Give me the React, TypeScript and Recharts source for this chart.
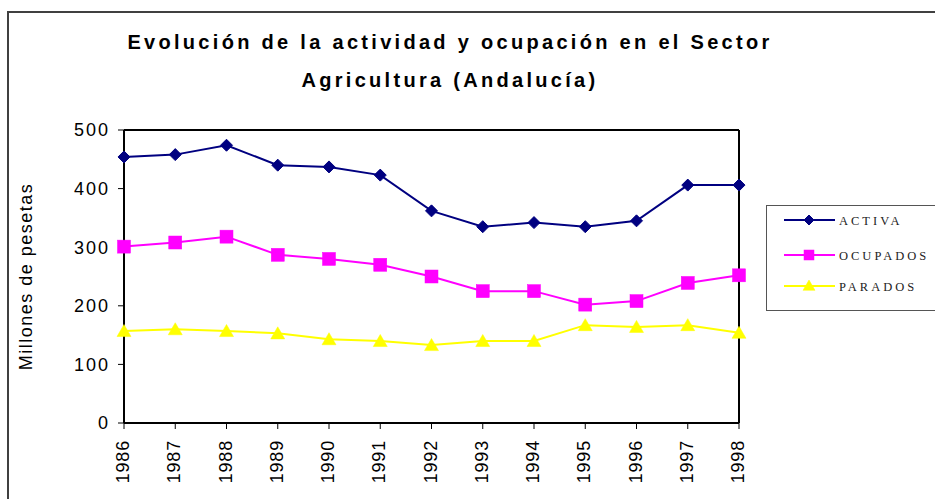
import React from 'react';
import { LineChart, Line, XAxis, YAxis, Legend, ReferenceLine } from 'recharts';

const years = ['1986', '1987', '1988', '1989', '1990', '1991', '1992', '1993', '1994', '1995', '1996', '1997', '1998'];
const activa = [454, 458, 474, 440, 437, 423, 362, 335, 342, 335, 345, 406, 406];
const ocupados = [301, 308, 318, 287, 280, 270, 250, 225, 225, 202, 208, 239, 252];
const parados = [157, 160, 157, 153, 143, 140, 133, 140, 140, 167, 164, 167, 154];
const yTicks = [0, 100, 200, 300, 400, 500];

const data = years.map((y, i) => ({ year: y, ACTIVA: activa[i], OCUPADOS: ocupados[i], PARADOS: parados[i] }));

const NAVY = '#000080';
const MAGENTA = '#FF00FF';
const YELLOW = '#FFFF00';
const FONT = "'Liberation Sans', Arial, sans-serif";

function Diamond(cx: number, cy: number, r: number, key?: string) {
  return <polygon key={key} points={`${cx},${cy - r} ${cx + r},${cy} ${cx},${cy + r} ${cx - r},${cy}`} fill={NAVY} stroke={NAVY} strokeWidth={1} />;
}
function Square(cx: number, cy: number, h: number, key?: string) {
  return <rect key={key} x={cx - h} y={cy - h} width={2 * h} height={2 * h} fill={MAGENTA} stroke={MAGENTA} strokeWidth={0.5} />;
}
function Triangle(cx: number, cy: number, h: number, key?: string) {
  return <polygon key={key} points={`${cx},${cy - h} ${cx + h},${cy + h * 0.72} ${cx - h},${cy + h * 0.72}`} fill={YELLOW} stroke={YELLOW} strokeWidth={0.5} />;
}

const diamondDot = (p: any) => Diamond(p.cx, p.cy, 6, `da-${p.index}`);
const squareDot = (p: any) => Square(p.cx, p.cy, 6.5, `do-${p.index}`);
const triangleDot = (p: any) => Triangle(p.cx, p.cy + 0.5, 7, `dp-${p.index}`);

const XTick = (p: any) => {
  const { x, y, payload } = p;
  return (
    <g transform={`translate(${x},${y})`}>
      <text x={0} y={0} dy="0.28em" transform="rotate(-90)" textAnchor="end" fontSize={18} fontFamily={FONT} letterSpacing={0.8} fill="#000">
        {payload.value}
      </text>
    </g>
  );
};

const YLabel = (p: any) => {
  const vb = p.viewBox || {};
  const cx = 32;
  const cy = (vb.y ?? 130) + (vb.height ?? 293) / 2;
  return (
    <text x={cx} y={cy} transform={`rotate(-90, ${cx}, ${cy})`} textAnchor="middle" fontSize={18} fontFamily={FONT} letterSpacing={1.5} fill="#000">
      Millones de pesetas
    </text>
  );
};

const LegendContent = (props: any) => {
  const payload = props.payload || [];
  const rowsY = [15, 50, 81];
  return (
    <div style={{ width: 200, height: 106, border: '1.5px solid #555', boxSizing: 'border-box', background: '#fff', position: 'relative' }}>
      <svg width={200} height={106} style={{ position: 'absolute', left: -1.5, top: -1.5 }}>
        {payload.map((item: any, i: number) => {
          const y = rowsY[i] ?? 15 + i * 33;
          const color = item.color;
          let marker = null;
          if (item.value === 'ACTIVA') marker = Diamond(43, y, 5);
          else if (item.value === 'OCUPADOS') marker = Square(43, y, 5);
          else marker = Triangle(43, y, 6);
          return (
            <g key={item.value}>
              <line x1={18} x2={69} y1={y} y2={y} stroke={color} strokeWidth={2} />
              {marker}
              <text x={73} y={y} dy="0.36em" fontSize={12.5} fontFamily="'Liberation Serif', 'DejaVu Serif', serif" letterSpacing={3} fill="#222">
                {item.value}
              </text>
            </g>
          );
        })}
      </svg>
    </div>
  );
};

export default function App() {
  return (
    <div style={{ position: 'absolute', left: 0, top: 0, width: 935, height: 499, overflow: 'hidden', background: '#fff' }}>
      <div style={{ position: 'absolute', left: 7, top: 11, width: 960, height: 520, borderLeft: '2px solid #404040', borderTop: '2px solid #404040' }} />
      <svg width={935} height={120} style={{ position: 'absolute', left: 0, top: 0 }}>
        <text x={450} y={49} textAnchor="middle" fontSize={20} fontWeight="bold" fontFamily={FONT} letterSpacing={3.3} fill="#000">
          Evolución de la actividad y ocupación en el Sector
        </text>
        <text x={450} y={87} textAnchor="middle" fontSize={20} fontWeight="bold" fontFamily={FONT} letterSpacing={3.3} fill="#000">
          Agricultura (Andalucía)
        </text>
      </svg>
      <div style={{ position: 'absolute', left: 0, top: 0 }}>
        <LineChart width={935} height={499} data={data} margin={{ top: 130, right: 196, bottom: 6, left: 64 }}>
          <XAxis
            dataKey="year"
            height={70}
            tick={<XTick />}
            tickSize={6}
            tickMargin={11}
            interval={0}
            axisLine={{ stroke: '#000', strokeWidth: 2 }}
            tickLine={{ stroke: '#000' }}
          />
          <YAxis
            width={60}
            domain={[0, 500]}
            ticks={yTicks}
            tickSize={6}
            tickMargin={8}
            interval={0}
            tick={{ fontSize: 18, fill: '#000', fontFamily: FONT, letterSpacing: 2 } as any}
            axisLine={{ stroke: '#000', strokeWidth: 2 }}
            tickLine={{ stroke: '#000' }}
            label={<YLabel />}
          />
          <ReferenceLine y={500} stroke="#000" strokeWidth={2} ifOverflow="visible" />
          <ReferenceLine x="1998" stroke="#000" strokeWidth={2} ifOverflow="visible" />
          <Line dataKey="ACTIVA" name="ACTIVA" stroke={NAVY} strokeWidth={2} dot={diamondDot} activeDot={false} isAnimationActive={false} />
          <Line dataKey="OCUPADOS" name="OCUPADOS" stroke={MAGENTA} strokeWidth={2} dot={squareDot} activeDot={false} isAnimationActive={false} />
          <Line dataKey="PARADOS" name="PARADOS" stroke={YELLOW} strokeWidth={2} dot={triangleDot} activeDot={false} isAnimationActive={false} />
          <Legend
            layout="vertical"
            align="center"
            verticalAlign="middle"
            content={<LegendContent />}
            wrapperStyle={{ left: 766, top: 205, width: 200, height: 106 }}
          />
        </LineChart>
      </div>
    </div>
  );
}
